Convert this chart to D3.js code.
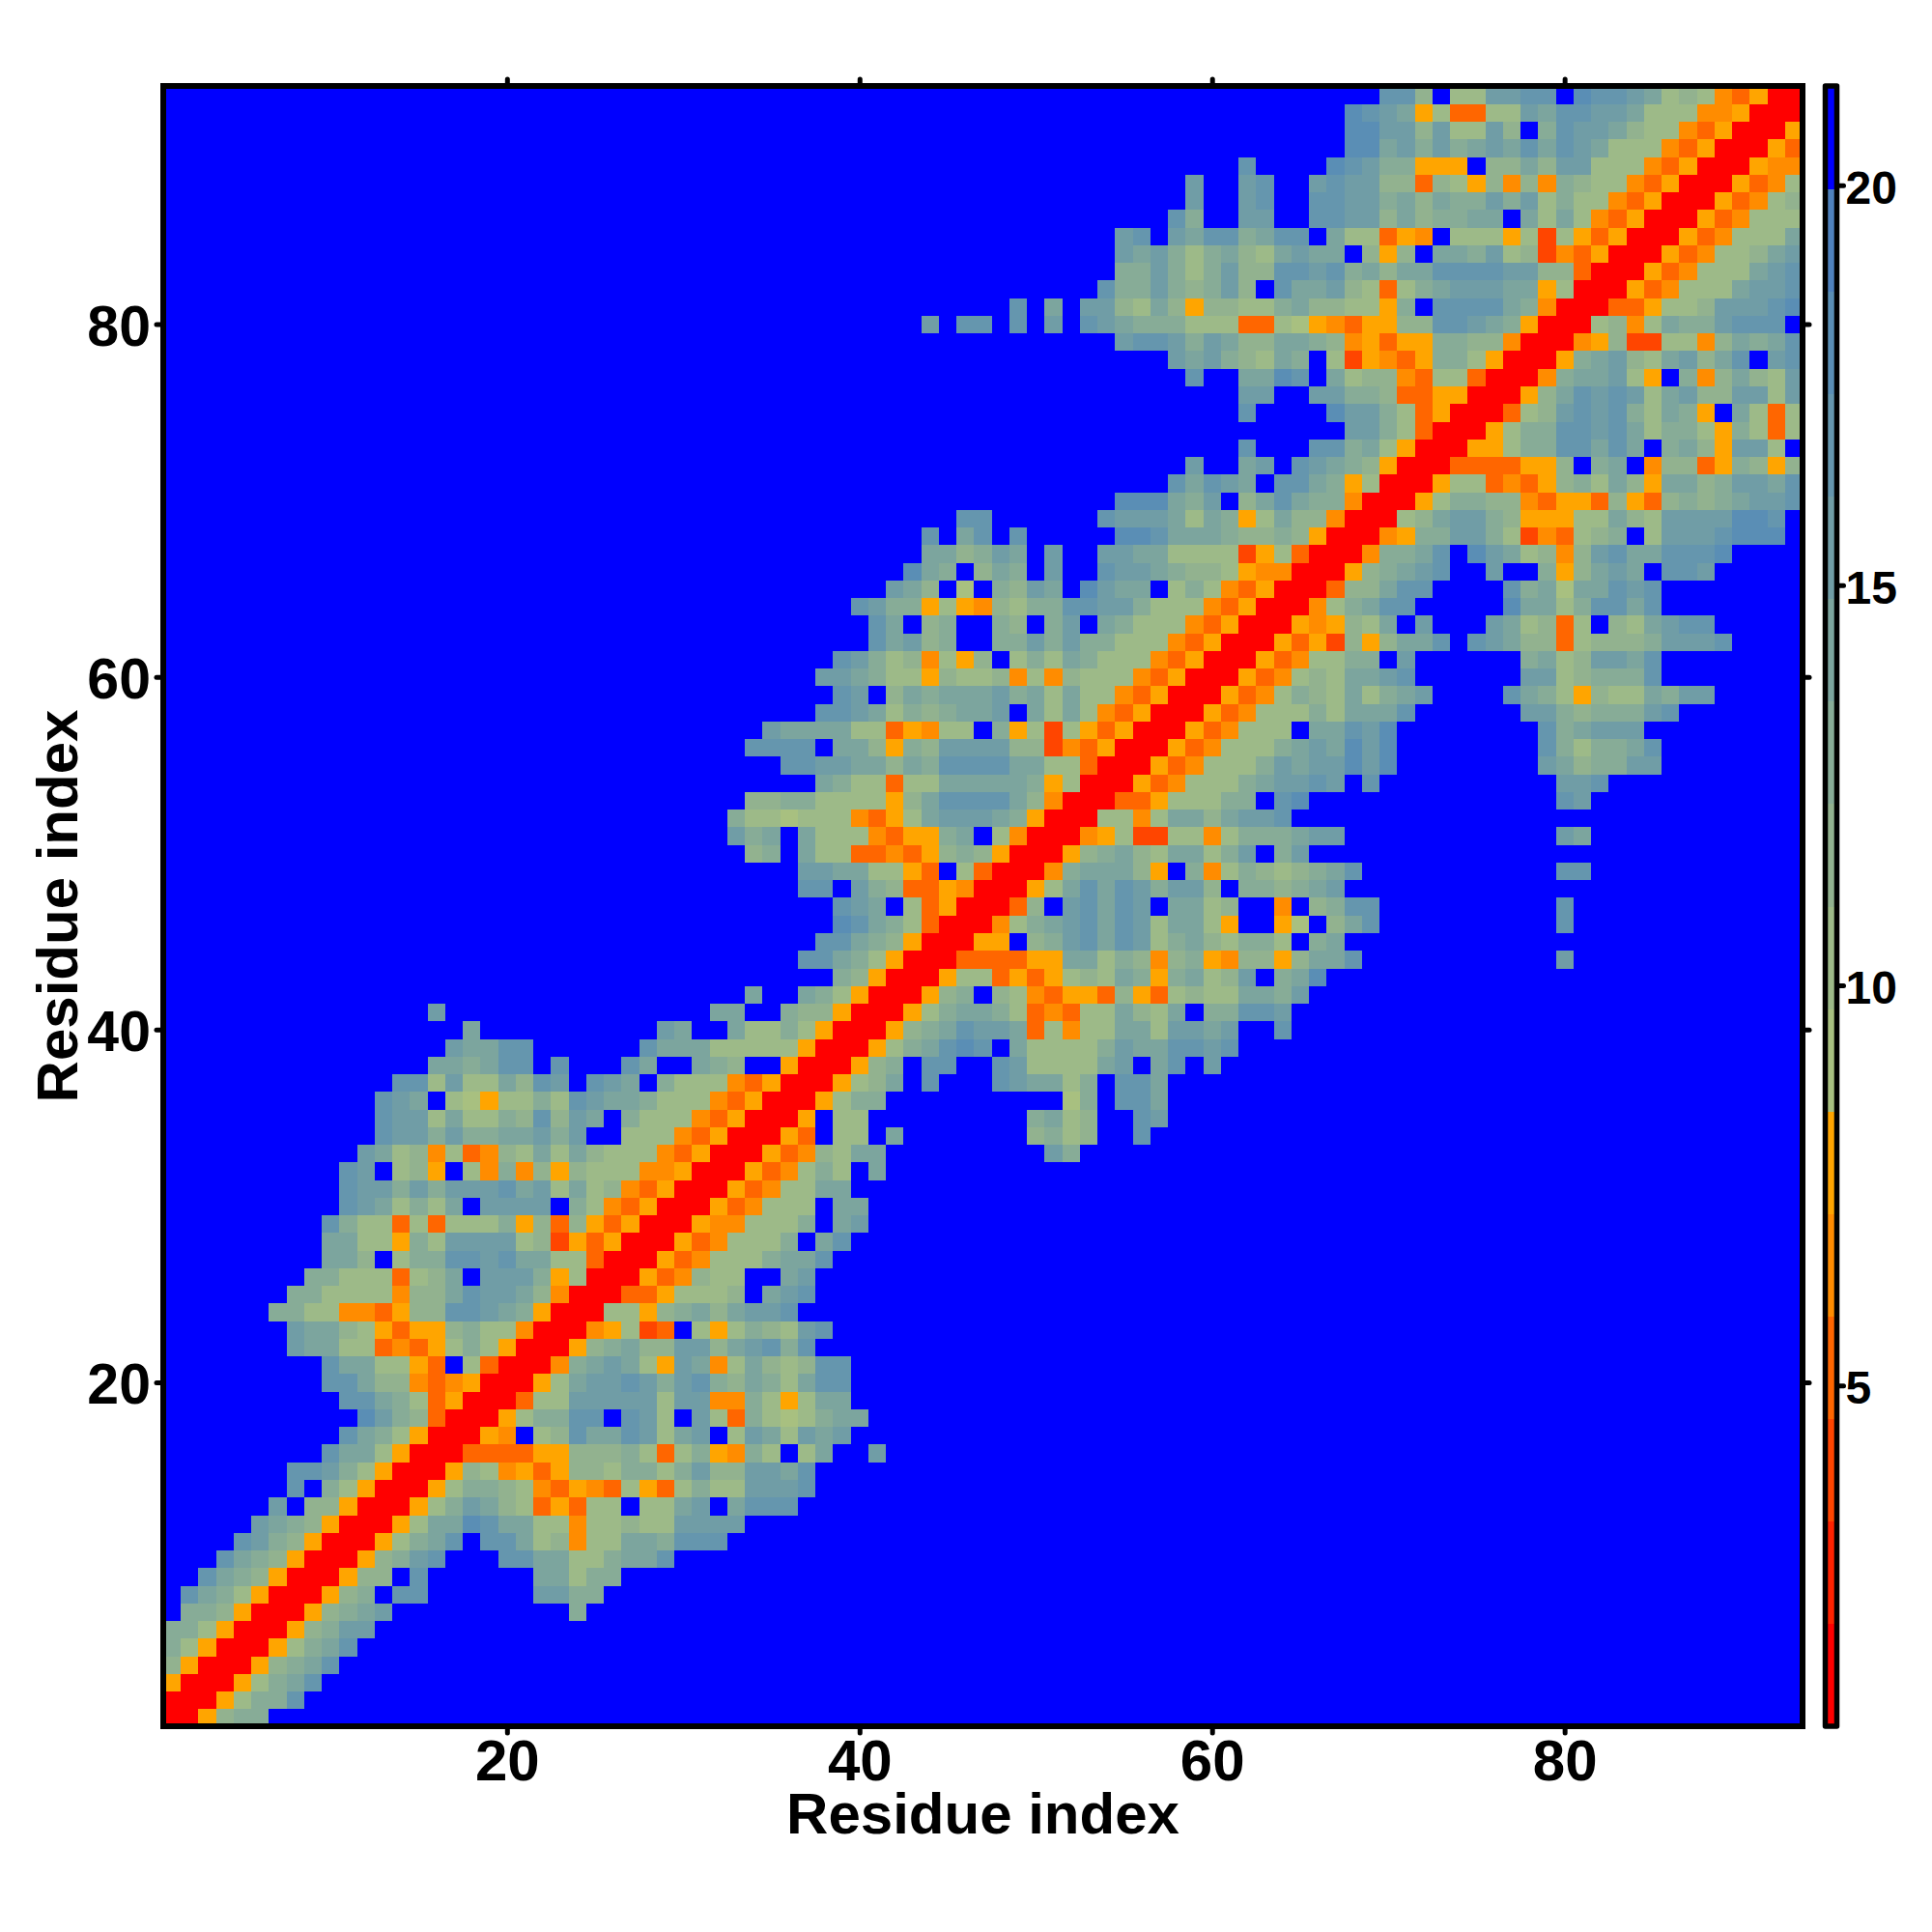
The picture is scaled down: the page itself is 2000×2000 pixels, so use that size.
<!DOCTYPE html>
<html><head><meta charset="utf-8">
<script src="https://cdn.jsdelivr.net/npm/d3@7/dist/d3.min.js"></script>
<style>html,body{margin:0;padding:0;background:#fff}svg{display:block}text{font-family:"Liberation Sans",Arial,sans-serif;font-weight:bold;fill:#000}</style>
</head><body><svg id="c" width="2000" height="2000"></svg>
<script>
const axisTicks = [20, 40, 60, 80];
const barTicks = [5, 10, 15, 20];
const axisLabel = "Residue index";
const bandColors = ["#ff0000","#ff2200","#ff4500","#ff6600","#ff8c00","#ffa500",
  "#a8c080","#9dba88","#92b28f","#87ac97","#7ca59e","#709da6","#6596ae","#5a8eb5","#4f81bd","#0000ff"];
const valueMin = 0.74, valueMax = 21.24;
// distance classes (Angstrom, band centres)
const codes = ["R","E","D","O","A","2","3","4","5","6","7","8","9","."];
const codeValues = [1.4,3.9,5.2,6.4,7.7,9.0,10.3,11.6,12.8,14.1,15.4,16.7,18.0,20.6];
// lower triangle, each string right-aligned on the diagonal (residue 1 to 93)
const rowCells = [
"R","RR","ARR","4ARR","53ARR","553ARR","554ARR","8653ARR","8654ARR","8654ARR",
"8754ARR","7654ARR","7.44ARR","8.53ARR","88753ARR","8663ARR","8653ARR","9754DRR","88653DARR","88644ODOARR",
"86633AD.3DRR","76633DODA353ARR","76643ADAA4533ORR","5533OODA4488765ARR","553333O44687764ORR","55333D346.7775A3RR","664.35588786633DRR","6633A53777734EADARR","8533D3D3335A4D4ADARR","8763536.7777.53ODARR",
"8775757778673634ODARR","87.34A.3O5O4A4333OOARR","7634O3DO436364333ODARR","877575566757..333ODARR","8773633548476.5333ODARR","876.32A335387665333ODARR","8837336487.876.5333ODARR","665688.8...86..654..ARR","76688......866633333ARR","6..........76..63353ARR",
"7...............66..544ARR","6..653ARR","54ARR","88653ARR","88654ARR","98653DRR","876.3DARR","88.754DDAORR","776633AD.3DRR","45.633DDODA454ARR",
"756.6333ODAA56.3ORR","5332333ODA3677765ARR","44553333A46888864ORR","6533D33666665A3RR","88776646588886633DRR","8888.664A54777744EODARR","7666633DAO33.5A3E3ADARR","88763545667.6363ODARR","87.4656667563633ODARR","776533A4334O3O4333ODARR",
"87534O3A4.35365333ODARR","86745..5575755333ODARR","86.45..54.57.65333ODARR","8755A3AO435588775333ODARR","764.2.5476.9766.353ODARR","965.465.7..87765443AOORR","664576.7..77663333EA3DRR","8.68.8.....99866654454ARR","88......87776365A3644ORR","999657.468655ORR",
"86876.8865A3RR","7..67.87654ARR","8...88563ARR","7753DRR","8....97753DARR","77..77554DDAARR","8..6698.6344OD33DRR","76754365.3EAODA553ARR","7887576446654OADAA5544ORR","7.88.8.7.876555333DD32AODAA4488765ARR",
"8.6.774364A4433564433A5.888865ORR","855754574.866743D35677766A3RR","55753574488785646688887744DRR","7675356436766.4A4.665734EODARR","78.76885688.633DAO.333A3E3ADARR","85..77..88774645566.6363ODARR","7..78..88775646557573533ODARR","7..78..787744D43A4O4O5433ODARR","8....98755AAA.446477333ODARR","996757567686876333ODARR",
"9977473374.58776433ODARR","9876A3DD337688776333OOARR","884.337788.98876343ODARR"
];
const N = rowCells.length;
const far = codeValues[codes.indexOf(".")];
const matrix = d3.range(N).map(() => d3.range(N).map(() => far));
rowCells.forEach((s, i) => {
  const start = i + 1 - s.length;
  [...s].forEach((ch, k) => {
    const j = start + k;
    if (j < 0) return;
    const v = codeValues[codes.indexOf(ch)];
    matrix[i][j] = v; matrix[j][i] = v;
  });
});
const cells = [];
matrix.forEach((row, i) => row.forEach((v, j) => cells.push({x: j + 1, y: i + 1, v})));

const L = 169, R = 1866, T = 89, B = 1787;
const x = d3.scaleLinear().domain([0.5, N + 0.5]).range([L, R]);
const y = d3.scaleLinear().domain([0.5, N + 0.5]).range([B, T]);
const step = (valueMax - valueMin) / bandColors.length;
const breaks = d3.range(1, bandColors.length).map(i => valueMin + i * step);
const color = d3.scaleThreshold().domain(breaks).range(bandColors);

const svg = d3.select("#c");
svg.append("rect").attr("width", 2000).attr("height", 2000).attr("fill", "#fff");
svg.append("g").attr("shape-rendering", "crispEdges").selectAll("rect").data(cells).join("rect")
  .attr("x", d => x(d.x - 0.5)).attr("y", d => y(d.y + 0.5))
  .attr("width", d => x(d.x + 0.5) - x(d.x - 0.5) + 0.6)
  .attr("height", d => y(d.y - 0.5) - y(d.y + 0.5) + 0.6)
  .attr("fill", d => color(d.v));

function styleAxis(g, size, shift) {
  g.select(".domain").remove();
  g.selectAll(".tick line").attr("stroke", "#000").attr("stroke-width", 5).attr("stroke-linecap", "round");
  g.selectAll(".tick text").attr("font-size", size).attr("font-weight", "bold").attr("fill", "#000")
    .attr("font-family", '"Liberation Sans",Arial,sans-serif').attr("transform", `translate(0,${shift || 0})`);
}
const tickLen = 5;
svg.append("g").attr("transform", `translate(0,${B + 2})`)
  .call(d3.axisBottom(x).tickValues(axisTicks).tickSize(tickLen).tickPadding(6).tickFormat(d3.format("d")))
  .call(g => styleAxis(g, 60));
svg.append("g").attr("transform", `translate(${L - 2},0)`)
  .call(d3.axisLeft(y).tickValues(axisTicks).tickSize(tickLen).tickPadding(6).tickFormat(d3.format("d")))
  .call(g => styleAxis(g, 59, 3));
svg.append("g").attr("transform", `translate(0,${T - 2})`)
  .call(d3.axisTop(x).tickValues(axisTicks).tickSize(tickLen).tickFormat(""))
  .call(g => styleAxis(g, 60));
svg.append("g").attr("transform", `translate(${R + 2},0)`)
  .call(d3.axisRight(y).tickValues(axisTicks).tickSize(tickLen).tickFormat(""))
  .call(g => styleAxis(g, 60));
svg.append("rect").attr("x", L).attr("y", T).attr("width", R - L).attr("height", B - T)
  .attr("fill", "none").attr("stroke", "#000").attr("stroke-width", 6);

svg.append("text").attr("x", (L + R) / 2).attr("y", 1898).attr("text-anchor", "middle").attr("font-size", 60).text(axisLabel);
svg.append("text").attr("transform", `translate(80,${(T + B) / 2}) rotate(-90)`).attr("text-anchor", "middle").attr("font-size", 60).text(axisLabel);

// colour bar
const cbL = 1889.5, cbR = 1901.5;
const yBar = d3.scaleLinear().domain([valueMin, valueMax]).range([B, T]);
svg.append("g").attr("shape-rendering", "crispEdges").selectAll("rect").data(bandColors).join("rect")
  .attr("x", cbL).attr("width", cbR - cbL)
  .attr("y", (d, i) => yBar(valueMin + (i + 1) * step))
  .attr("height", (d, i) => yBar(valueMin + i * step) - yBar(valueMin + (i + 1) * step) + 0.5)
  .attr("fill", d => d);
svg.append("rect").attr("x", cbL).attr("y", T).attr("width", cbR - cbL).attr("height", B - T)
  .attr("fill", "none").attr("stroke", "#000").attr("stroke-width", 5.5).attr("stroke-linejoin", "round");
svg.append("g").attr("transform", `translate(${cbR + 2},0)`)
  .call(d3.axisRight(yBar).tickValues(barTicks).tickSize(tickLen).tickPadding(2).tickFormat(d3.format("d")))
  .call(g => styleAxis(g, 48, 3));
</script></body></html>
